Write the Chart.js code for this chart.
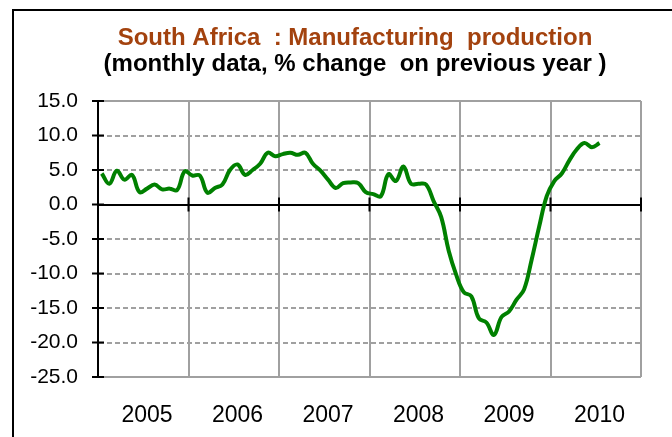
<!DOCTYPE html>
<html>
<head>
<meta charset="utf-8">
<script src="https://cdn.jsdelivr.net/npm/chart.js@4"></script>
<style>
  html, body { margin: 0; padding: 0; background: #fff; }
  #frame { position: absolute; left: 12px; top: 9px; width: 800px; height: 600px; border: 2px solid #000; }
  #wrap { position: absolute; left: 0; top: 0; width: 672px; height: 437px; }
</style>
</head>
<body>
<div id="frame"></div>
<div id="wrap"><canvas id="mfgChart" width="672" height="437"></canvas></div>
<script>
// year/month categories, data runs Jan 2005 - Jul 2010
const years = ['2005', '2006', '2007', '2008', '2009', '2010'];
const months = ['Jan', 'Feb', 'Mar', 'Apr', 'May', 'Jun', 'Jul', 'Aug', 'Sep', 'Oct', 'Nov', 'Dec'];

// % change on previous year, one array per year
const y2005 = [4.5, 3.0, 4.9, 3.6, 4.3, 1.8, 2.3, 2.9, 2.2, 2.3, 2.1, 4.8];
const y2006 = [4.2, 4.2, 1.7, 2.4, 2.9, 5.0, 5.8, 4.3, 5.0, 5.9, 7.5, 7.0];
const y2007 = [7.3, 7.5, 7.2, 7.5, 5.9, 4.9, 3.6, 2.4, 3.1, 3.2, 3.1, 1.8];
const y2008 = [1.5, 1.2, 4.4, 3.4, 5.5, 3.0, 3.0, 2.9, 0.5, -1.8, -6.7, -10.2];
const y2009 = [-12.7, -13.3, -16.5, -17.1, -18.9, -16.3, -15.5, -13.8, -12.3, -8.0, -3.2, 1.2];
const y2010 = [3.4, 4.5, 6.4, 8.0, 8.9, 8.3, 8.9];

const titleText = 'South Africa  : Manufacturing  production';
const subtitleText = '(monthly data, % change  on previous year )';

const labels = [];
years.forEach(y => months.forEach(m => labels.push(m + ' ' + y)));
const values = [].concat(y2005, y2006, y2007, y2008, y2009, y2010);

const FONT = "'Liberation Sans', Arial, sans-serif";
const GRID = '#a0a0a0';

// titles are centred on the outer frame, which is wider than the window
const titles = {
  id: 'titles',
  afterDraw(chart) {
    const ctx = chart.ctx;
    ctx.save();
    ctx.textAlign = 'center';
    ctx.textBaseline = 'middle';
    ctx.fillStyle = '#a3420e';
    ctx.font = 'bold 24px ' + FONT;
    ctx.fillText(titleText, 355, 38);
    ctx.fillStyle = '#000';
    ctx.fillText(subtitleText, 355, 64);
    ctx.restore();
  }
};

// black crossing tick marks on the y axis and on the zero line
const axisTicks = {
  id: 'axisTicks',
  afterDatasetsDraw(chart) {
    const ctx = chart.ctx;
    const xs = chart.scales.x, ys = chart.scales.y;
    const x0 = ys.right;
    const zero = ys.getPixelForValue(0);
    ctx.save();
    ctx.strokeStyle = '#000';
    ctx.lineWidth = 2;
    ctx.beginPath();
    ys.ticks.forEach(t => {
      const py = ys.getPixelForValue(t.value);
      ctx.moveTo(x0 - 6, py);
      ctx.lineTo(x0 + 6, py);
    });
    const half = (xs.getPixelForValue(1) - xs.getPixelForValue(0)) / 2;
    for (let i = 12; i <= labels.length; i += 12) {
      const px = xs.getPixelForValue(i - 1) + half;
      ctx.moveTo(px, zero - 7);
      ctx.lineTo(px, zero + 7);
    }
    ctx.stroke();
    ctx.restore();
  }
};

const ctx = document.getElementById('mfgChart').getContext('2d');
new Chart(ctx, {
  type: 'line',
  data: {
    labels: labels,
    datasets: [{
      data: values,
      borderColor: '#008000',
      borderWidth: 4,
      tension: 0.4,
      pointRadius: 0,
      fill: false
    }]
  },
  options: {
    responsive: false,
    animation: false,
    layout: { padding: { top: 101, right: 31, bottom: 0, left: 0 } },
    plugins: {
      legend: { display: false },
      tooltip: { enabled: false }
    },
    scales: {
      x: {
        type: 'category',
        offset: true,
        afterFit: s => { s.height = 60; },
        grid: {
          offset: true,
          drawTicks: false,
          lineWidth: 2,
          color: c => (c.index === undefined || c.index % 12 === 0) ? GRID : 'rgba(0,0,0,0)'
        },
        border: { display: false },
        ticks: {
          autoSkip: false,
          maxRotation: 0,
          minRotation: 0,
          padding: 25,
          color: '#000',
          font: { family: FONT, size: 23 },
          callback: (v, i) => i % 12 === 6 ? years[Math.floor(i / 12)] : ''
        }
      },
      y: {
        min: -25,
        max: 15,
        afterFit: s => { s.width = 98; },
        ticks: {
          stepSize: 5,
          padding: 20,
          color: '#000',
          font: { family: FONT, size: 21 },
          callback: v => v.toFixed(1)
        },
        grid: {
          drawTicks: false,
          color: c => c.tick && c.tick.value === 0 ? '#000' : GRID,
          lineWidth: 2
        },
        border: {
          display: true,
          color: '#000',
          width: 2,
          dash: c => (c.tick && (c.tick.value === 0 || c.tick.value === 15 || c.tick.value === -25)) ? [] : [5, 3]
        }
      }
    }
  },
  plugins: [titles, axisTicks]
});
</script>
</body>
</html>
